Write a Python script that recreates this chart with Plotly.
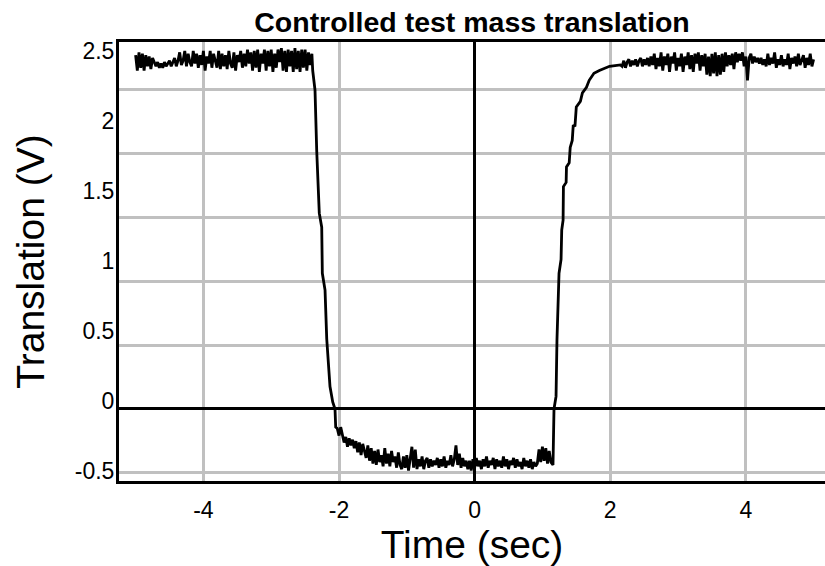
import numpy as np
import plotly.graph_objects as go

# ---------------- data ----------------
# left plateau, sampled every 0.025 s from -5.000 to -2.400
left_t0, left_dt = -5.0, 0.025
left_v = [2.47, 2.36, 2.49, 2.38, 2.48, 2.36, 2.47, 2.39, 2.46, 2.37, 2.45,
          2.42, 2.39, 2.42, 2.38, 2.41, 2.38, 2.42, 2.39, 2.41, 2.43, 2.39, 2.42, 2.45, 2.39,
          2.43, 2.49, 2.40, 2.43, 2.50, 2.39, 2.48, 2.42, 2.39, 2.50, 2.41, 2.48, 2.38, 2.47,
          2.40, 2.50, 2.36, 2.46,
          2.41, 2.50, 2.38, 2.48, 2.42, 2.38, 2.50, 2.37, 2.48, 2.39, 2.47, 2.37, 2.50, 2.41,
          2.38, 2.49, 2.36, 2.47, 2.42, 2.50, 2.38, 2.48, 2.39, 2.51, 2.41,
          2.49, 2.36, 2.50, 2.38, 2.51, 2.35, 2.48, 2.41, 2.51, 2.36, 2.50, 2.39, 2.51, 2.35,
          2.48, 2.38, 2.51, 2.42, 2.52, 2.36, 2.50, 2.35, 2.51, 2.39, 2.50, 2.35, 2.52, 2.37,
          2.50, 2.35, 2.51, 2.38, 2.51, 2.36, 2.49, 2.40, 2.48]

# fall
fall_t = [-2.388, -2.354, -2.329, -2.291, -2.255, -2.246, -2.206, -2.181, -2.133, -2.093, -2.059, -2.049]
fall_v = [2.36, 2.22, 1.79, 1.34, 1.24, 0.91, 0.79, 0.44, 0.10, -0.01, -0.06, -0.19]

# bottom level, sampled every 0.025 s from -2.025 to 1.125
low_t0, low_dt = -2.025, 0.025
low_v = [-0.20, -0.25, -0.19, -0.26,
         -0.30, -0.26, -0.33, -0.27, -0.32, -0.28,
         -0.34, -0.29, -0.37, -0.30, -0.39, -0.31, -0.36, -0.41, -0.32,
         -0.43, -0.34, -0.45, -0.36, -0.46, -0.35, -0.44, -0.39, -0.47, -0.34, -0.45, -0.38,
         -0.47, -0.36, -0.44, -0.40, -0.48, -0.37, -0.46,
         -0.49, -0.40, -0.48, -0.39, -0.50, -0.41, -0.33, -0.48, -0.35, -0.49, -0.42, -0.47,
         -0.40, -0.49, -0.43, -0.41, -0.48, -0.42, -0.47, -0.43,
         -0.46, -0.41, -0.48, -0.42, -0.47, -0.40, -0.48, -0.43, -0.46, -0.39, -0.47, -0.42,
         -0.32, -0.46, -0.38, -0.48, -0.41, -0.47, -0.43, -0.49,
         -0.43, -0.50, -0.42, -0.48, -0.41, -0.47, -0.43, -0.49, -0.42, -0.47, -0.40, -0.48,
         -0.43, -0.46, -0.41, -0.49, -0.42, -0.47, -0.43, -0.48, -0.40, -0.47, -0.42, -0.49,
         -0.43, -0.46, -0.41, -0.48, -0.42, -0.47, -0.44, -0.49, -0.41, -0.47, -0.43, -0.48,
         -0.42, -0.49, -0.44, -0.47,
         -0.45, -0.35, -0.44, -0.33, -0.43, -0.34, -0.45, -0.36, -0.44]

# rise
rise_t = [1.156, 1.171, 1.201, 1.215, 1.245, 1.275, 1.285, 1.305, 1.310, 1.350, 1.355, 1.395, 1.410,
          1.440, 1.455, 1.480, 1.500, 1.560, 1.590, 1.650, 1.690, 1.760, 1.840, 1.990, 2.150]
rise_v = [-0.46, -0.06, 0.03, 0.44, 0.91, 1.01, 1.22, 1.29, 1.53, 1.56, 1.67, 1.70, 1.81,
          1.86, 1.97, 1.96, 2.10, 2.14, 2.20, 2.24, 2.29, 2.34, 2.36, 2.39, 2.40]

# right plateau, sampled every 0.025 s from 2.175 to 5.000
right_t0, right_dt = 2.175, 0.025
right_v = [2.39, 2.43, 2.38, 2.42, 2.44, 2.39, 2.43, 2.40, 2.44, 2.39, 2.43, 2.45, 2.39, 2.44,
           2.40, 2.45, 2.39, 2.46,
           2.40, 2.48, 2.37, 2.45, 2.39, 2.49, 2.36, 2.46, 2.40, 2.48, 2.35, 2.46, 2.41, 2.49,
           2.36, 2.45, 2.39, 2.48, 2.35, 2.46, 2.40, 2.49, 2.37, 2.47, 2.35, 2.48, 2.41, 2.49,
           2.36, 2.47, 2.39,
           2.48, 2.33, 2.46, 2.32, 2.48, 2.34, 2.49, 2.32, 2.47, 2.33, 2.48, 2.35, 2.49, 2.39, 2.47,
           2.40, 2.48, 2.37, 2.49, 2.42, 2.48, 2.43, 2.49, 2.39, 2.46, 2.29, 2.45, 2.48, 2.41,
           2.46, 2.42, 2.45,
           2.41, 2.45, 2.40, 2.44, 2.39, 2.48, 2.40, 2.45, 2.41, 2.49, 2.38, 2.44, 2.40, 2.47,
           2.39, 2.44, 2.40, 2.48, 2.37, 2.45, 2.41, 2.46, 2.39, 2.48, 2.40, 2.44, 2.47, 2.38,
           2.45, 2.40, 2.48, 2.39, 2.44]

x_ticks = [-4, -2, 0, 2, 4]
x_ticklabels = ["-4", "-2", "0", "2", "4"]
y_ticks = [-0.5, 0, 0.5, 1, 1.5, 2, 2.5]
y_ticklabels = ["-0.5", "0", "0.5", "1", "1.5", "2", "2.5"]

title_text = "Controlled test mass translation"
x_title = "Time (sec)"
y_title = "Translation (V)"

# ---------------- assemble ----------------
def seg(t0, dt, vals):
    return list(np.round(t0 + dt * np.arange(len(vals)), 4))

t_all = seg(left_t0, left_dt, left_v) + fall_t + seg(low_t0, low_dt, low_v) + rise_t + seg(right_t0, right_dt, right_v)
v_all = left_v + fall_v + low_v + rise_v + right_v

FONT = "Liberation Sans, Arial, sans-serif"
GRID = "#c0c0c0"

fig = go.Figure()
# helper (empty) trace so the grid axis is active
fig.add_trace(go.Scatter(x=[None], y=[None], yaxis="y2", showlegend=False, hoverinfo="skip"))
fig.add_trace(go.Scatter(x=t_all, y=v_all, mode="lines",
                         line=dict(color="black", width=2.8), showlegend=False))

fig.update_layout(
    width=825, height=566,
    margin=dict(l=119, r=0, t=41.5, b=84.5, autoexpand=False),
    paper_bgcolor="white", plot_bgcolor="white",
    font=dict(family=FONT, color="black"),
    title=dict(text="<b>" + title_text + "</b>", font=dict(size=28.5, family=FONT, color="black"),
               x=0.5, xref="paper", xanchor="center",
               y=1 - 22 / 566, yref="container", yanchor="middle"),
    xaxis=dict(range=[-5.245, 5.168], tickvals=x_ticks, ticktext=x_ticklabels,
               automargin=False,
               showgrid=True, gridcolor=GRID, gridwidth=2.5,
               zeroline=True, zerolinecolor="black", zerolinewidth=2.5,
               showline=True, linecolor="black", linewidth=3, mirror=True,
               ticks="", tickfont=dict(size=23), ticklabelstandoff=6,
               title=dict(text=x_title, font=dict(size=39), standoff=14)),
    yaxis=dict(range=[-0.575, 2.564], tickvals=y_ticks, ticktext=y_ticklabels,
               automargin=False,
               showgrid=False, zeroline=False,
               showline=True, linecolor="black", linewidth=3,
               ticks="", tickfont=dict(size=23), ticklabelstandoff=-3,
               title=dict(text=y_title, font=dict(size=39), standoff=19)),
    yaxis2=dict(range=[-0.566, 2.876], overlaying="y", side="left",
                automargin=False,
                tick0=-0.5, dtick=0.5, showticklabels=False,
                showgrid=True, gridcolor=GRID, gridwidth=2.5,
                zeroline=True, zerolinecolor="black", zerolinewidth=2.5,
                showline=False, ticks=""),
)

fig.write_html("out.html",
               config={"displayModeBar": False},
               post_script="document.body.style.margin='0';document.body.style.overflow='hidden';")
